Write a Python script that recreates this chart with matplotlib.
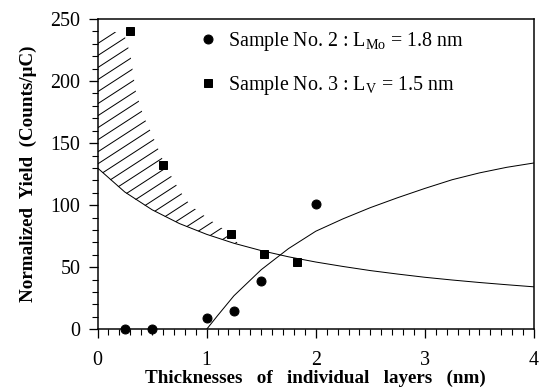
import numpy as np
import matplotlib
matplotlib.use("Agg")
import matplotlib.pyplot as plt
from matplotlib.ticker import MultipleLocator

plt.rcParams['font.family'] = ['Liberation Serif', 'DejaVu Serif']
plt.rcParams['mathtext.fontset'] = 'custom'
plt.rcParams['mathtext.rm'] = 'Liberation Serif'

# measured points
mo_x = [0.25, 0.5, 1.0, 1.25, 1.5, 2.0]
mo_y = [0, 0, 9, 15, 39, 101]
v_x = [0.3, 0.6, 1.22, 1.53, 1.83]
v_y = [240, 132, 77, 61, 54]

# decreasing curve
dec_x = [0, 0.25, 0.5, 0.75, 1.0, 1.25, 1.5, 1.75, 2.0, 2.25, 2.5, 2.75, 3.0,
         3.25, 3.5, 3.75, 4.0]
dec_y = [130, 110.6, 96.3, 85.2, 76.5, 69.3, 63.4, 58.4, 54.2, 50.6, 47.3,
         44.5, 41.9, 39.7, 37.7, 35.9, 34.2]

# increasing curve
inc_x = [1.0, 1.1, 1.25, 1.5, 1.75, 2.0, 2.25, 2.5, 2.75, 3.0, 3.25, 3.5,
         3.75, 4.0]
inc_y = [0, 11, 27, 48, 65, 79, 89, 98, 106, 113.5, 120.5, 126, 130.5, 134]

# hatched band
hatch_x = [0, 0.15, 0.25, 0.3, 0.35, 0.42, 0.5, 0.62, 0.75, 0.85, 1.0, 1.1,
           1.2, 1.3]
hatch_lo = [130, 117.6, 110.6, 106.6, 104.4, 100.5, 96.3, 90.7, 85.2, 81.5,
            76.5, 73.4, 70.7, 68.1]
hatch_hi = [238, 240, 236, 222, 192, 172, 157, 132, 112, 100, 90, 84, 78, 68]

fig = plt.figure(figsize=(7.5, 389 / 72), dpi=72)
ax = fig.add_axes([0.1806, 0.1535, 0.8083, 0.7977])

band = ax.fill_between(hatch_x, hatch_lo, hatch_hi, facecolor='none',
                       linewidth=0)
# slanted hatch strokes, clipped to the band
slope = 57.0    # data units per x unit (~33 deg on screen)
step = 9.7      # vertical spacing in data units
for c in np.arange(-90, 250, step):
    ln, = ax.plot([0, 1.5], [c, c + slope * 1.5], color='black', lw=1.0)
    ln.set_clip_path(band.get_paths()[0], ax.transData)

ax.plot(dec_x, dec_y, color='black', lw=1.0)
ax.plot(inc_x, inc_y, color='black', lw=1.0)

ax.plot(mo_x, mo_y, 'o', color='black', ms=9, clip_on=False,
        label=r'Sample No. 2 : L$_{\rm Mo}$ = 1.8 nm')
ax.plot(v_x, v_y, 's', color='black', ms=7.5, clip_on=False,
        label=r'Sample No. 3 : L$_{\rm V}$ = 1.5 nm')

ax.set_xlim(0, 4)
ax.set_ylim(0, 250)
ax.xaxis.set_major_locator(MultipleLocator(1))
ax.xaxis.set_minor_locator(MultipleLocator(0.1))
ax.yaxis.set_major_locator(MultipleLocator(50))
ax.yaxis.set_minor_locator(MultipleLocator(10))
ax.tick_params(which='major', direction='out', length=9, width=1.3,
               labelsize=20)
ax.tick_params(which='minor', direction='out', length=6, width=1.1)
ax.tick_params(axis='x', pad=13)
ax.tick_params(axis='y', pad=8)
for s in ax.spines.values():
    s.set_linewidth(1.5)

ax.set_xlabel('Thicknesses   of   individual   layers   (nm)', fontsize=19,
              fontweight='bold', labelpad=-1)
ax.set_ylabel('Normalized  Yield  (Counts/\u03bcC)', fontsize=19,
              fontweight='bold', labelpad=14)

ax.legend(loc='upper left', bbox_to_anchor=(199 / 540, 1 - 30 / 389),
          bbox_transform=fig.transFigure, frameon=False, fontsize=20,
          numpoints=1, handlelength=0.9, handletextpad=0.55,
          labelspacing=1.05, borderpad=0, borderaxespad=0)

fig.savefig('out.png', dpi=72)
